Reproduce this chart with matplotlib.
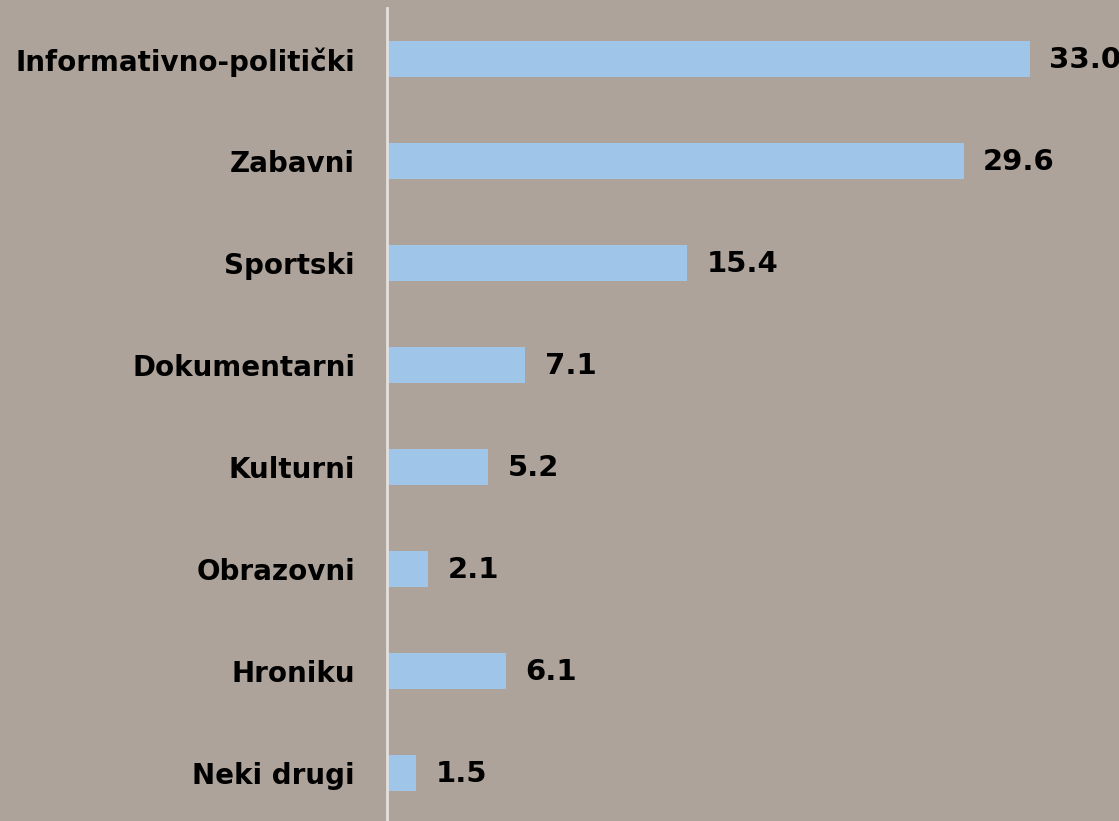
import matplotlib.pyplot as plt

# podaci
kategorije = ['Informativno-politički', 'Zabavni', 'Sportski', 'Dokumentarni',
              'Kulturni', 'Obrazovni', 'Hroniku', 'Neki drugi']
vrijednosti = [33.0, 29.6, 15.4, 7.1, 5.2, 2.1, 6.1, 1.5]

pozadina = '#ada39a'
boja_stupca = '#9fc5e8'

plt.rcParams['font.family'] = ['DejaVu Sans']

fig = plt.figure(figsize=(11.19, 8.21), dpi=100)
fig.patch.set_facecolor(pozadina)
ax = fig.add_axes([387 / 1119, 0, 1 - 387 / 1119, (821 - 8) / 821])
ax.set_facecolor(pozadina)

pozicije = list(range(len(kategorije)))
ax.barh(pozicije, vrijednosti, height=0.35, color=boja_stupca)

for p, v in zip(pozicije, vrijednosti):
    ax.annotate(f'{v:.1f}', xy=(v, p), xytext=(14, -1), textcoords='offset points',
                ha='left', va='center', fontsize=21, fontweight='bold', color='black')

ax.set_xlim(0, 37.58)
ax.set_ylim(7.47, -0.5)
ax.set_yticks(pozicije)
ax.set_yticklabels(kategorije, fontsize=20, fontweight='bold')
ax.tick_params(axis='y', length=0, pad=23)
ax.set_xticks([])

for s in ['top', 'right', 'bottom']:
    ax.spines[s].set_visible(False)
ax.spines['left'].set_color('#e4e0dc')
ax.spines['left'].set_linewidth(2)

fig.savefig('out.png', dpi=100, facecolor=pozadina)
